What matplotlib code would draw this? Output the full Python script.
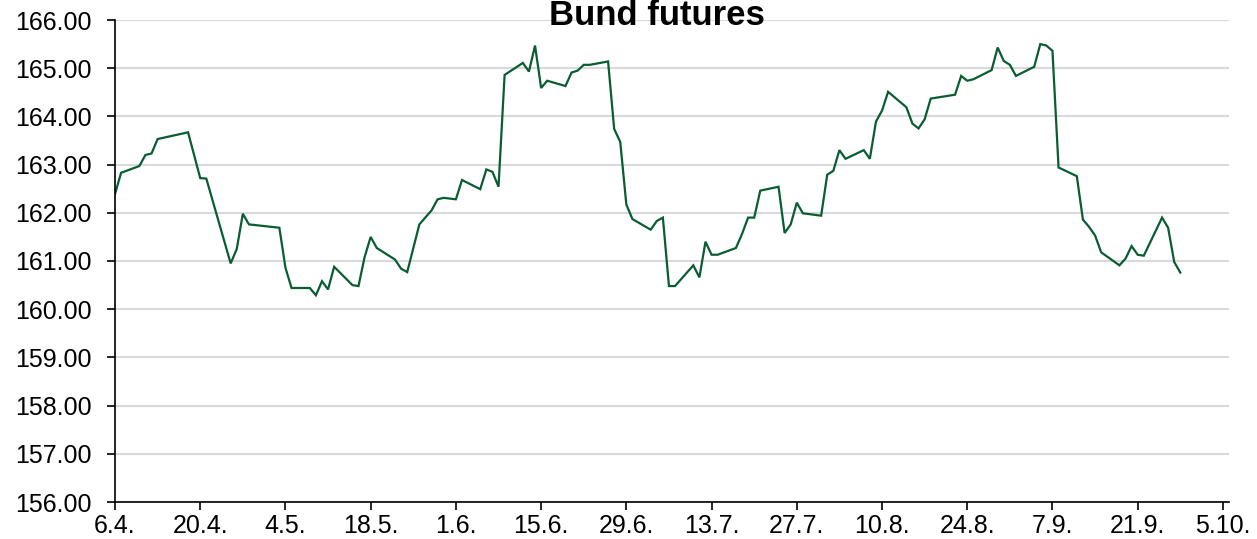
import matplotlib
matplotlib.use("Agg")
import matplotlib.pyplot as plt
import numpy as np

# Day offsets from 6 April and Bund futures price
days = [0, 1, 4, 5, 6, 7, 12, 14, 15, 19, 20, 21, 22, 27, 28, 29, 32, 33, 34, 35,
        36, 39, 40, 41, 42, 43, 46, 47, 48, 50, 52, 53, 54, 56, 57, 60, 61, 62, 63, 64,
        67, 68, 69, 70, 71, 74, 75, 76, 77, 78, 81, 82, 83, 84, 85, 88, 89, 90, 91, 92,
        95, 96, 97, 98, 99, 102, 103, 104, 105, 106, 109, 110, 111, 112, 113, 116, 117, 118, 119, 120,
        123, 124, 125, 126, 127, 130, 131, 132, 133, 134, 138, 139, 140, 141, 144, 145, 146, 147, 148, 151,
        152, 153, 154, 155, 158, 159, 160, 161, 162, 165, 166, 167, 168, 169, 172, 173, 174, 175]
prices = [162.39, 162.83, 162.97, 163.20, 163.23, 163.53, 163.67, 162.72, 162.71, 160.95,
          161.25, 161.98, 161.76, 161.69, 160.86, 160.44, 160.44, 160.29, 160.58, 160.41,
          160.88, 160.50, 160.48, 161.08, 161.50, 161.27, 161.03, 160.84, 160.77, 161.76,
          162.05, 162.28, 162.31, 162.28, 162.68, 162.49, 162.90, 162.85, 162.54, 164.86,
          165.11, 164.93, 165.47, 164.59, 164.74, 164.63, 164.91, 164.95, 165.07, 165.07,
          165.14, 163.74, 163.47, 162.17, 161.87, 161.65, 161.83, 161.90, 160.48, 160.48,
          160.91, 160.66, 161.40, 161.13, 161.13, 161.27, 161.56, 161.90, 161.90, 162.46,
          162.54, 161.58, 161.76, 162.21, 161.99, 161.94, 162.79, 162.87, 163.30, 163.12,
          163.30, 163.12, 163.89, 164.12, 164.51, 164.19, 163.85, 163.75, 163.94, 164.37,
          164.45, 164.84, 164.74, 164.77, 164.96, 165.43, 165.15, 165.07, 164.84, 165.03,
          165.50, 165.47, 165.36, 162.94, 162.76, 161.86, 161.71, 161.53, 161.18, 160.91,
          161.05, 161.31, 161.13, 161.11, 161.90, 161.69, 160.98, 160.76]

tick_days = [0, 14, 28, 42, 56, 70, 84, 98, 112, 126, 140, 154, 168, 182]
tick_labels = ["6.4.", "20.4.", "4.5.", "18.5.", "1.6.", "15.6.", "29.6.", "13.7.",
               "27.7.", "10.8.", "24.8.", "7.9.", "21.9.", "5.10."]
y_ticks = [156, 157, 158, 159, 160, 161, 162, 163, 164, 165, 166]

plt.rcParams['font.family'] = ['Liberation Sans', 'DejaVu Sans']

fig = plt.figure(figsize=(12.57, 5.39), dpi=100)
ax = fig.add_axes([115/1257, 1 - 502/539, (1229 - 115)/1257, (502 - 20)/539])

ax.plot(days, prices, color="#0a5c32", lw=1.6, solid_joinstyle="miter")

ax.set_xlim(0, 183)
ax.set_ylim(156, 166)
ax.set_xticks(tick_days)
ax.set_xticklabels(tick_labels)
ax.set_yticks(y_ticks)
ax.set_yticklabels([f"{v:.2f}" for v in y_ticks])

ax.grid(axis="y", color="#d9d9d9", lw=1.5)
ax.set_axisbelow(True)
for s in ["top", "right"]:
    ax.spines[s].set_visible(False)
for s in ["left", "bottom"]:
    ax.spines[s].set_color("black")
    ax.spines[s].set_linewidth(1.2)
ax.tick_params(axis="both", direction="out", length=6, width=1.2, color="black",
               labelsize=18, labelcolor="black")
ax.tick_params(axis="x", pad=2.5)
ax.tick_params(axis="y", pad=11)

fig.text(657/1257, 1 - 25/539, "Bund futures", ha="center", va="baseline",
         fontsize=25, fontweight="bold")

fig.savefig("out.png", dpi=100)
